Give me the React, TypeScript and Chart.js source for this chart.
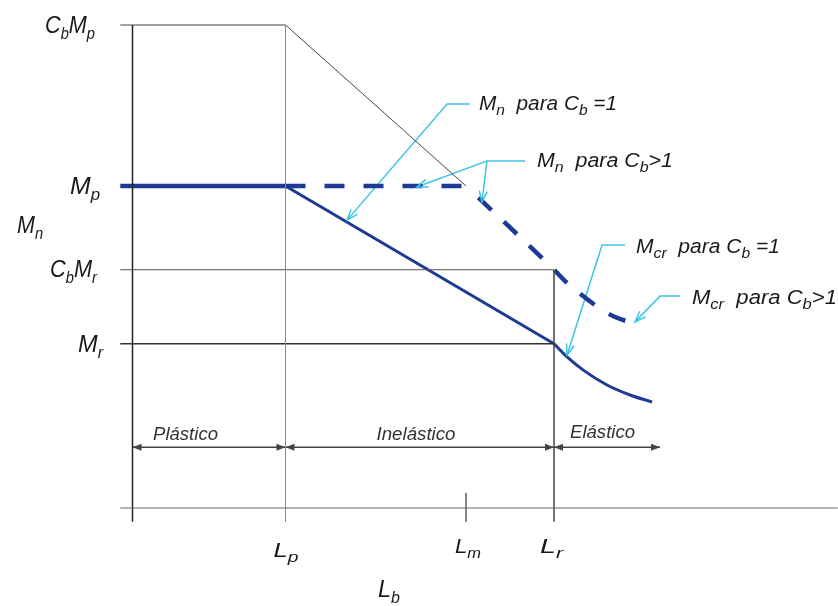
import React, { useEffect, useRef } from 'react';
import { Chart, registerables } from 'chart.js';

Chart.register(...registerables);

// ---------------- Data (diagram units) ----------------
// Unbraced length ticks (x) and moment levels (y)
const lengthTickLabels = ['L_{p}', 'L_{m}', 'L_{r}'];
const lengthTickValues = [10, 21.8, 27.55];
const momentTickLabels = ['C_{b}M_{p}', 'M_{p}', 'C_{b}M_{r}', 'M_{r}'];
const momentTickValues = [150, 100, 74, 51];

// Axis extents
const axisXRange = [-0.8, 46.1];
const axisYBottom = -4.3;
const lmTickTop = 4.7;
const zoneArrowY = 18.9;
const elasticZoneEnd = 34.48;

// Elastic buckling Mcr for Cb = 1 (from Lr)
const mcrCb1X = [27.55, 28.4, 29.44, 31.01, 32.52, 33.96];
const mcrCb1Y = [51, 46.9, 42.9, 38.2, 35.1, 32.9];

// Mn for Cb > 1 (from Lm, through Lr, elastic part)
const mnCbGt1X = [21.8, 27.55, 28.4, 29.38, 30.42, 31.54, 32.65];
const mnCbGt1Y = [100, 74, 69.9, 66.1, 62.4, 59.3, 57.5];

// Callout leader lines
const leaderMnCb1X = [22.06, 20.56, 14.02];
const leaderMnCb1Y = [125.5, 125.5, 89.4];
const leaderMnGt1X = [25.65, 23.17, 18.59];
const leaderMnGt1Y = [107.8, 107.8, 99.7];
const leaderMnGt1bX = [23.17, 22.84];
const leaderMnGt1bY = [107.8, 95.0];
const leaderMcrCb1X = [32.19, 30.69, 28.4];
const leaderMcrCb1Y = [81.7, 81.7, 47.5];
const leaderMcrGt1X = [35.78, 34.48, 32.84];
const leaderMcrGt1Y = [65.8, 65.8, 57.8];

// Texts
const axisTitleY = 'M_{n}';
const axisTitleX = 'L_{b}';
const zoneLabels = ['Plástico', 'Inelástico', 'Elástico'];
const calloutLabels = [
  'M_{n}  para C_{b} =1',
  'M_{n}  para C_{b}>1',
  'M_{cr}  para C_{b} =1',
  'M_{cr}  para C_{b}>1',
];

// ---------------- Styles ----------------
const BLUE = '#1d3a94';
const CYAN = '#3ec5e6';
const INK = '#1a1a1a';
const FONT = '"Liberation Sans", Arial, sans-serif';

const [Lp, Lm, Lr] = lengthTickValues;
const [CbMp, Mp, CbMr, Mr] = momentTickValues;
const [xStart, xEnd] = axisXRange;

const pts = (xs: number[], ys: number[]) => xs.map((x, i) => ({ x, y: ys[i] }));

type Part = { t: string; sub: boolean };
const parseRich = (s: string): Part[] => {
  const out: Part[] = [];
  let i = 0;
  let buf = '';
  while (i < s.length) {
    if (s[i] === '_' && s[i + 1] === '{') {
      if (buf) out.push({ t: buf, sub: false });
      buf = '';
      const end = s.indexOf('}', i);
      out.push({ t: s.slice(i + 2, end), sub: true });
      i = end + 1;
    } else {
      buf += s[i];
      i++;
    }
  }
  if (buf) out.push({ t: buf, sub: false });
  return out;
};

type TextMark = {
  text: string;
  x: number;
  y: number;
  dx: number;
  dy: number;
  size: number;
  w: number;
  color: string;
  sub?: number;
};

const textMarks: TextMark[] = [
  // moment levels, left of the vertical axis
  { text: momentTickLabels[0], x: 0, y: CbMp, dx: -87.5, dy: 8, size: 23, w: 50, color: INK },
  { text: momentTickLabels[1], x: 0, y: Mp, dx: -62.5, dy: 8, size: 23, w: 30, color: INK },
  { text: momentTickLabels[2], x: 0, y: CbMr, dx: -82.5, dy: 7, size: 23, w: 47, color: INK },
  { text: momentTickLabels[3], x: 0, y: Mr, dx: -54.5, dy: 8, size: 23, w: 25, color: INK },
  { text: axisTitleY, x: 0, y: Mp, dx: -115.5, dy: 47, size: 23, w: 26, color: INK },
  // length ticks
  { text: lengthTickLabels[0], x: Lp, y: 0, dx: -12, dy: 49, size: 20, w: 25, color: INK, sub: 0.75 },
  { text: lengthTickLabels[1], x: Lm, y: 0, dx: -11, dy: 45, size: 20, w: 26, color: INK, sub: 0.75 },
  { text: lengthTickLabels[2], x: Lr, y: 0, dx: -14, dy: 45, size: 20, w: 23, color: INK, sub: 0.75 },
  { text: axisTitleX, x: 0, y: 0, dx: 245.5, dy: 89, size: 24, w: 22, color: INK },
  // zones
  { text: zoneLabels[0], x: 0, y: zoneArrowY, dx: 20.5, dy: -7, size: 17.5, w: 65, color: '#333' },
  { text: zoneLabels[1], x: Lp, y: zoneArrowY, dx: 91, dy: -7, size: 17.5, w: 79, color: '#333' },
  { text: zoneLabels[2], x: Lr, y: zoneArrowY, dx: 16, dy: -9, size: 17.5, w: 65, color: '#333' },
  // callouts
  { text: calloutLabels[0], x: leaderMnCb1X[0], y: leaderMnCb1Y[0], dx: 9, dy: 6, size: 20, w: 138, color: INK, sub: 0.75 },
  { text: calloutLabels[1], x: leaderMnGt1X[0], y: leaderMnGt1Y[0], dx: 12, dy: 6, size: 20, w: 136, color: INK, sub: 0.75 },
  { text: calloutLabels[2], x: leaderMcrCb1X[0], y: leaderMcrCb1Y[0], dx: 11, dy: 8, size: 20, w: 144, color: INK, sub: 0.75 },
  { text: calloutLabels[3], x: leaderMcrGt1X[0], y: leaderMcrGt1Y[0], dx: 12, dy: 8, size: 20, w: 145, color: INK, sub: 0.75 },
];

const textPlugin = {
  id: 'diagramText',
  afterDatasetsDraw(chart: any) {
    const { ctx } = chart;
    const xs = chart.scales.x;
    const ys = chart.scales.y;
    ctx.save();
    ctx.textBaseline = 'alphabetic';
    ctx.textAlign = 'left';
    for (const m of textMarks) {
      const parts = parseRich(m.text);
      const subSize = m.size * (m.sub ?? 0.68);
      let natural = 0;
      for (const p of parts) {
        ctx.font = `italic ${p.sub ? subSize : m.size}px ${FONT}`;
        natural += ctx.measureText(p.t).width;
      }
      const sx = m.w / natural;
      const px = xs.getPixelForValue(m.x) + m.dx;
      const py = ys.getPixelForValue(m.y) + m.dy;
      ctx.save();
      ctx.translate(px, py);
      ctx.scale(sx, 1);
      ctx.fillStyle = m.color;
      let cx = 0;
      for (const p of parts) {
        ctx.font = `italic ${p.sub ? subSize : m.size}px ${FONT}`;
        ctx.fillText(p.t, cx, p.sub ? m.size * 0.26 : 0);
        cx += ctx.measureText(p.t).width;
      }
      ctx.restore();
    }
    ctx.restore();
  },
};

const arrowPlugin = {
  id: 'arrowHeads',
  afterDatasetsDraw(chart: any) {
    const ctx = chart.ctx;
    chart.data.datasets.forEach((ds: any, i: number) => {
      const heads = ds.arrowHeads;
      if (!heads) return;
      const el = chart.getDatasetMeta(i).data;
      const draw = (tip: any, from: any) => {
        const ang = Math.atan2(tip.y - from.y, tip.x - from.x);
        const L = heads.len;
        const W = heads.half;
        const bx = tip.x - L * Math.cos(ang);
        const by = tip.y - L * Math.sin(ang);
        const nx = -Math.sin(ang) * W;
        const ny = Math.cos(ang) * W;
        ctx.save();
        ctx.beginPath();
        ctx.moveTo(bx + nx, by + ny);
        ctx.lineTo(tip.x, tip.y);
        ctx.lineTo(bx - nx, by - ny);
        if (heads.filled) {
          ctx.closePath();
          ctx.fillStyle = ds.borderColor;
          ctx.fill();
        } else {
          ctx.strokeStyle = ds.borderColor;
          ctx.lineWidth = ds.borderWidth;
          ctx.stroke();
        }
        ctx.restore();
      };
      if (heads.start) draw(el[0], el[1]);
      if (heads.end) draw(el[el.length - 1], el[el.length - 2]);
    });
  },
};

const line = (data: any[], color: string, width: number, extra: any = {}) => ({
  data,
  showLine: true,
  borderColor: color,
  backgroundColor: color,
  borderWidth: width,
  pointRadius: 0,
  pointHoverRadius: 0,
  fill: false,
  tension: 0,
  ...extra,
});

export default function App() {
  const ref = useRef<HTMLCanvasElement | null>(null);

  useEffect(() => {
    if (!ref.current) return;
    const datasets: any[] = [
      // thin frame lines
      line(pts([xStart, xEnd], [0, 0]), '#666', 1),
      line(pts([0, 0], [CbMp, axisYBottom]), '#222', 1.5),
      line(pts([Lp, Lp], [CbMp, axisYBottom]), '#888', 1),
      line(pts([Lr, Lr], [CbMr, axisYBottom]), '#444', 1.5),
      line(pts([Lm, Lm], [lmTickTop, axisYBottom]), '#777', 1),
      line(pts([xStart, Lp, Lm], [CbMp, CbMp, Mp]), '#444', 1),
      line(pts([xStart, Lr], [CbMr, CbMr]), '#555', 1),
      line(pts([xStart, Lr], [Mr, Mr]), '#333', 1.5),
      // zone arrows
      line(pts([0, Lp], [zoneArrowY, zoneArrowY]), '#444', 1.5, { arrowHeads: { start: true, end: true, filled: true, len: 9, half: 3.5 } }),
      line(pts([Lp, Lr], [zoneArrowY, zoneArrowY]), '#444', 1.5, { arrowHeads: { start: true, end: true, filled: true, len: 9, half: 3.5 } }),
      line(pts([Lr, elasticZoneEnd], [zoneArrowY, zoneArrowY]), '#444', 1.5, { arrowHeads: { start: true, end: true, filled: true, len: 9, half: 3.5 } }),
      // Mn for Cb = 1
      line(pts([xStart, Lp], [Mp, Mp]), BLUE, 4.5),
      line(pts([Lp, Lr], [Mp, Mr]), BLUE, 3),
      line(pts(mcrCb1X, mcrCb1Y), BLUE, 3, { cubicInterpolationMode: 'monotone' }),
      // Mn for Cb > 1 (dashed)
      line(pts([Lp, Lm], [Mp, Mp]), BLUE, 4.5, { borderDash: [20, 19] }),
      line(pts(mnCbGt1X, mnCbGt1Y), BLUE, 4.5, { borderDash: [18, 17], borderDashOffset: 18, cubicInterpolationMode: 'monotone' }),
      // callout leaders
      line(pts(leaderMnCb1X, leaderMnCb1Y), CYAN, 1.5, { arrowHeads: { end: true, filled: false, len: 11, half: 4 } }),
      line(pts(leaderMnGt1X, leaderMnGt1Y), CYAN, 1.5, { arrowHeads: { end: true, filled: false, len: 11, half: 4 } }),
      line(pts(leaderMnGt1bX, leaderMnGt1bY), CYAN, 1.5, { arrowHeads: { end: true, filled: false, len: 11, half: 4 } }),
      line(pts(leaderMcrCb1X, leaderMcrCb1Y), CYAN, 1.5, { arrowHeads: { end: true, filled: false, len: 11, half: 4 } }),
      line(pts(leaderMcrGt1X, leaderMcrGt1Y), CYAN, 1.5, { arrowHeads: { end: true, filled: false, len: 11, half: 4 } }),
    ];

    // x = 0 sits at px 132.5 (15.3 px/unit), y = 0 at px 508 (3.22 px/unit)
    const chart = new Chart(ref.current, {
      type: 'scatter',
      data: { datasets },
      options: {
        animation: false,
        responsive: false,
        events: [],
        layout: { padding: 0 },
        plugins: { legend: { display: false }, tooltip: { enabled: false } },
        scales: {
          x: { type: 'linear', display: false, min: -132.5 / 15.3, max: (838 - 132.5) / 15.3 },
          y: { type: 'linear', display: false, min: -(606 - 508) / 3.22, max: 508 / 3.22 },
        },
      },
      plugins: [arrowPlugin, textPlugin],
    } as any);
    return () => chart.destroy();
  }, []);

  return (
    <div style={{ position: 'fixed', left: 0, top: 0, width: 838, height: 606, background: '#fff' }}>
      <canvas ref={ref} width={838} height={606} />
    </div>
  );
}
